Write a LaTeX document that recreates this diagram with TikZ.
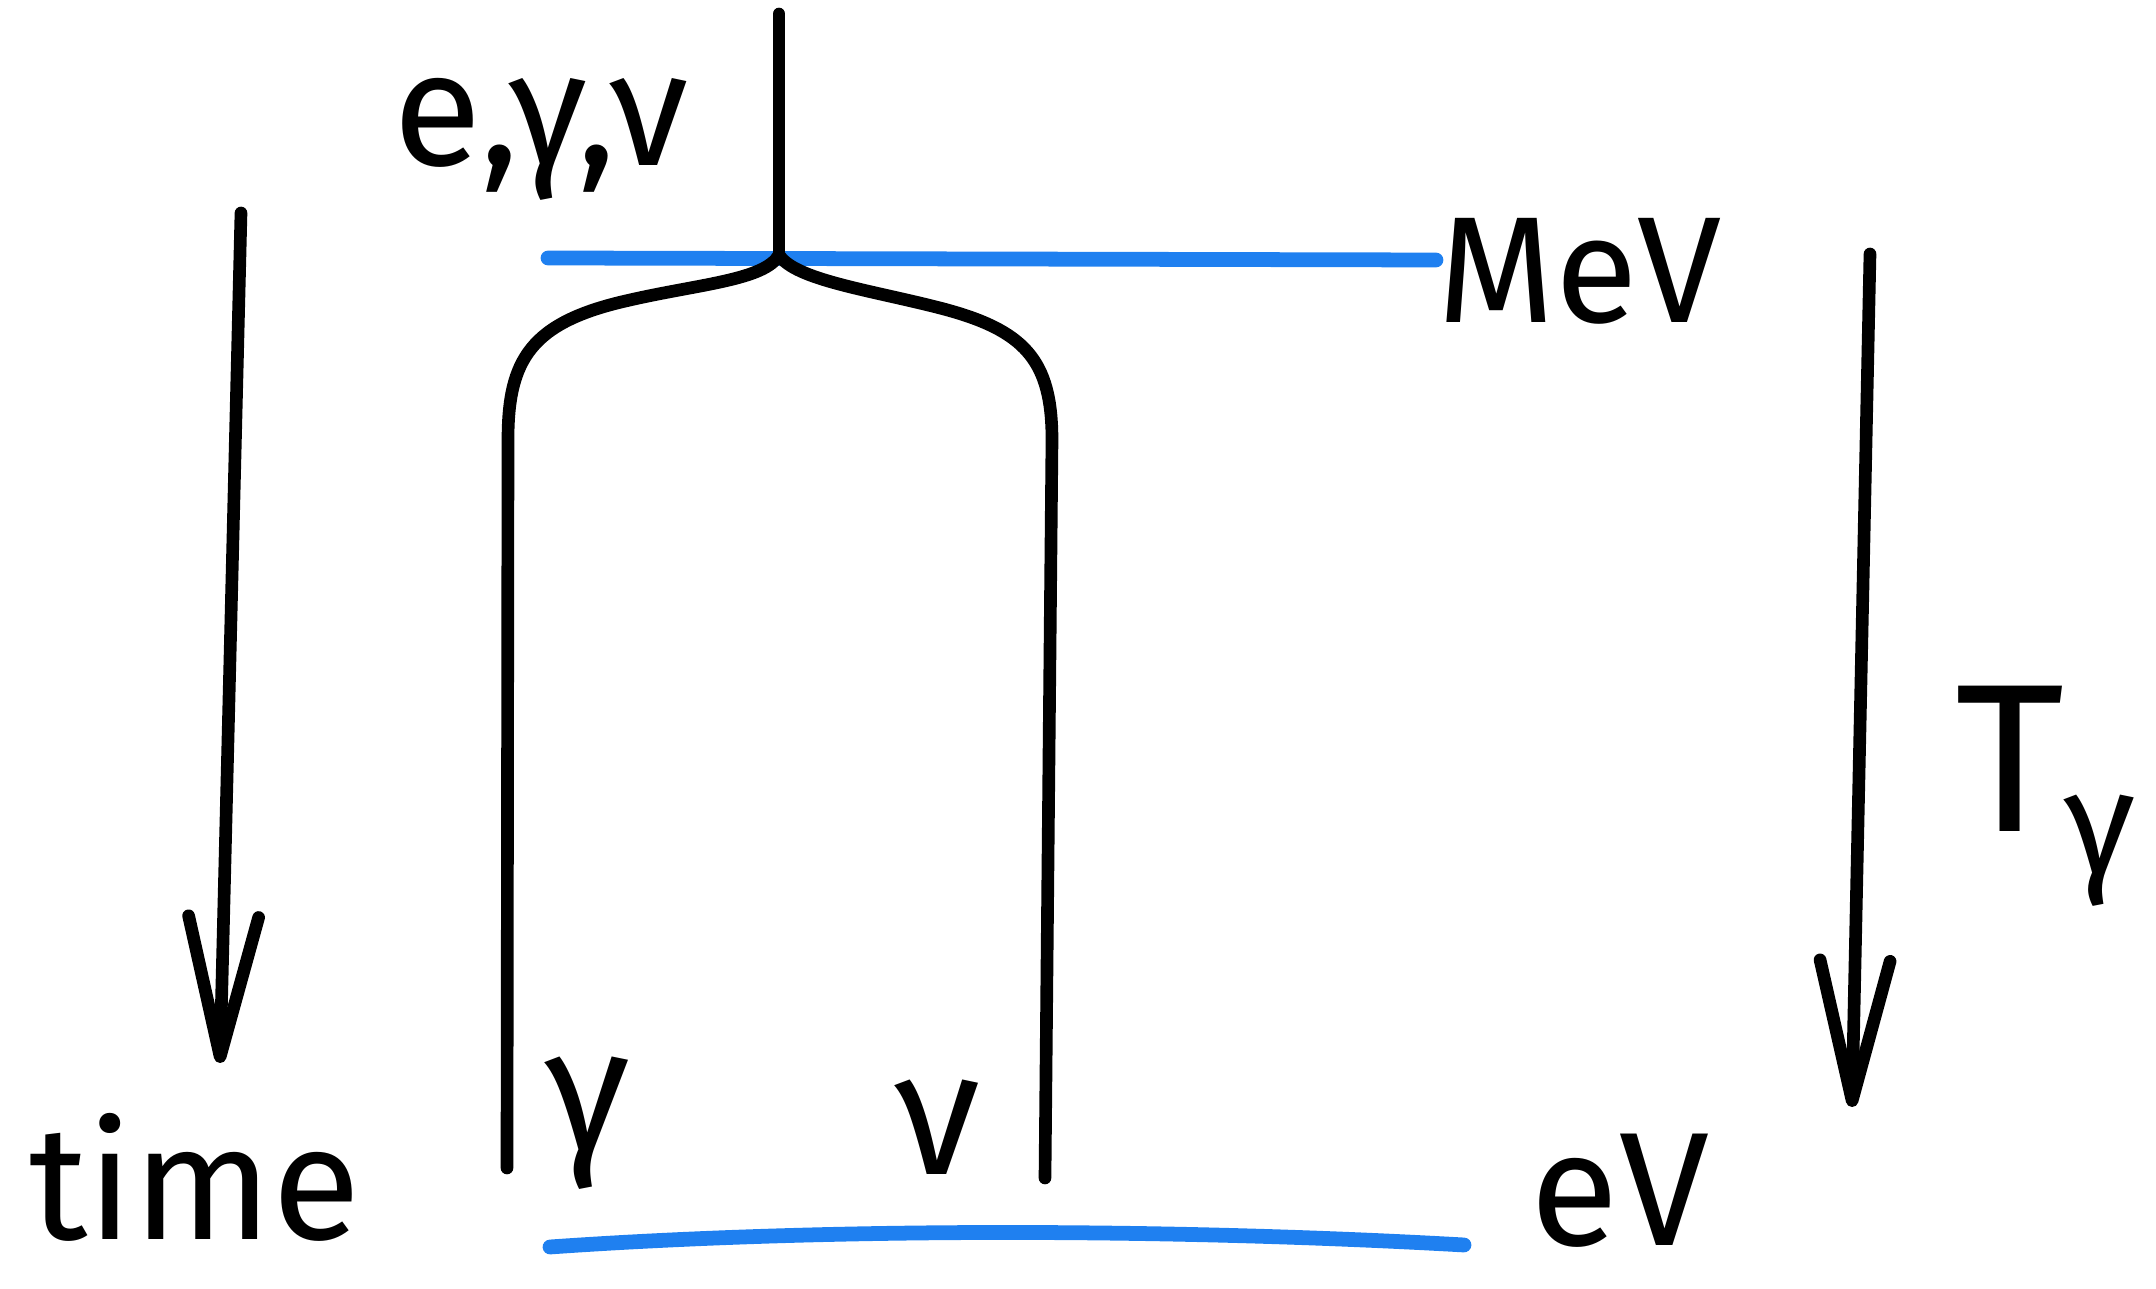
\documentclass[tikz,border=0pt]{standalone}
\usepackage{fontspec}
\setmainfont{Fira Sans}
\usetikzlibrary{arrows.meta}
\definecolor{scaleblue}{HTML}{1F80F0}

\begin{document}
\begin{tikzpicture}[
    x=0.01cm,y=-0.01cm,
    font=\fontsize{46}{52}\selectfont,
    world/.style={line width=3.6pt,draw=black,line cap=round,line join=round},
    scaleline/.style={line width=4.2pt,draw=scaleblue,line cap=round},
    flow/.style={line width=3.6pt,line cap=round,line join=round,
      -{Straight Barb[length=14mm,width=7mm,round]}},
    lbl/.style={inner sep=0pt,anchor=base}
  ]
    \useasboundingbox (0,0) rectangle (2156,1289);
    % labels
    \node[lbl] (prod) at (541,166) {e,γ,ν};
    \node[lbl,font=\fontsize{43}{50}\selectfont] (mev) at (1580,323) {MeV};
    \node[lbl] (ev) at (1620,1246) {eV};
    \node[lbl] (time) at (195,1240) {time};
    \node[lbl,font=\fontsize{50}{56}\selectfont] (gam) at (588,1152) {γ};
    \node[lbl,font=\fontsize{50}{56}\selectfont] (nu) at (938,1175) {ν};
    \node[lbl,anchor=base west,font=\fontsize{60}{68}\selectfont] (tgam) at (1955,832)
      {T\raisebox{-0.2em}{\fontsize{42}{48}\selectfont γ}};
    % energy scales
    \draw[scaleline] (548,258) -- (1436,260);
    \draw[scaleline] (550,1247) .. controls (850,1226) and (1200,1230) .. (1464,1245);
    % world lines
    \coordinate (src) at (779,14);
    \coordinate (vtx) at (779,255);
    \coordinate (lfoot) at (507,1168);
    \coordinate (rfoot) at (1045,1178);
    \draw[world] (src) -- (vtx);
    \draw[world] (vtx) .. controls (765,280) and (700,284) .. (630,300)
      .. controls (530,322) and (508,360) .. (508,440) -- (lfoot);
    \draw[world] (vtx) .. controls (795,280) and (870,290) .. (940,308)
      .. controls (1025,330) and (1052,360) .. (1052,440) -- (rfoot);
    % time arrows
    \coordinate (tl0) at (241,213);
    \coordinate (tl1) at (220,1063);
    \coordinate (tr0) at (1870,254);
    \coordinate (tr1) at (1852,1107);
    \draw[flow] (tl0) -- (tl1);
    \draw[flow] (tr0) -- (tr1);
  \end{tikzpicture}
\end{document}
